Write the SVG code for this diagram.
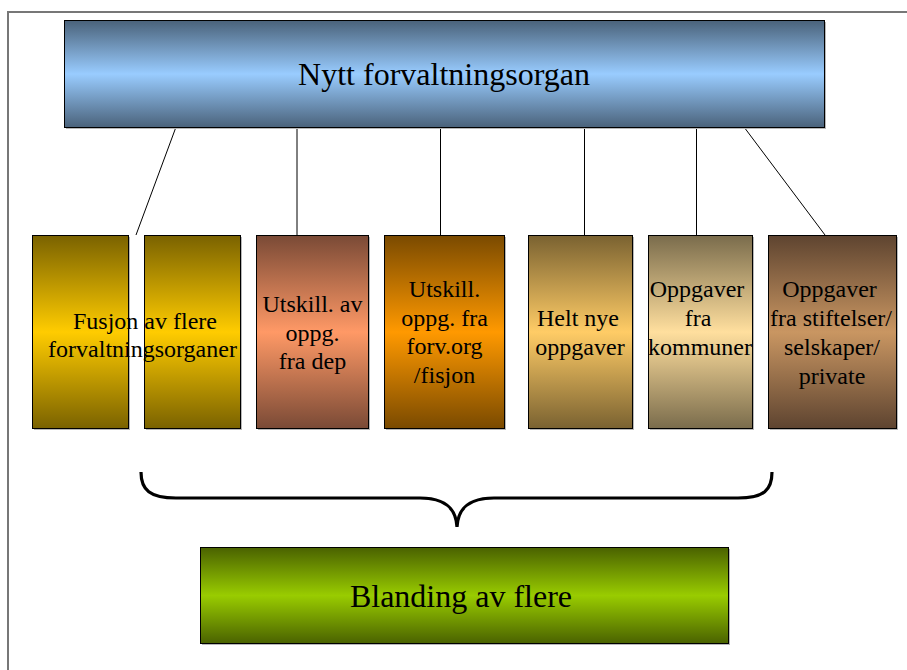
<svg xmlns="http://www.w3.org/2000/svg" width="907" height="670" viewBox="0 0 907 670">
<style>
  .box { stroke: #000; stroke-width: 1; }
  .shadow { fill: #b8b8b8; }
  .t { font-family: "Liberation Serif", "Times New Roman", serif; fill: #000; text-anchor: middle; }
  .big { font-size: 32px; }
  .small { font-size: 24px; }
  .conn { stroke: #000; stroke-width: 1; fill: none; }
</style>
<defs>
  <linearGradient id="gBlue" x1="0" y1="0" x2="0" y2="1">
    <stop offset="0" stop-color="#4a627a"/><stop offset="0.5" stop-color="#99ccff"/><stop offset="1" stop-color="#4a627a"/>
  </linearGradient>
  <linearGradient id="gGold" x1="0" y1="0" x2="0" y2="1">
    <stop offset="0" stop-color="#7a6200"/><stop offset="0.5" stop-color="#ffcc00"/><stop offset="1" stop-color="#7a6200"/>
  </linearGradient>
  <linearGradient id="gSalmon" x1="0" y1="0" x2="0" y2="1">
    <stop offset="0" stop-color="#7a4a36"/><stop offset="0.5" stop-color="#ff9966"/><stop offset="1" stop-color="#7a4a36"/>
  </linearGradient>
  <linearGradient id="gOrange" x1="0" y1="0" x2="0" y2="1">
    <stop offset="0" stop-color="#7a4a00"/><stop offset="0.5" stop-color="#ff9900"/><stop offset="1" stop-color="#7a4a00"/>
  </linearGradient>
  <linearGradient id="gTan" x1="0" y1="0" x2="0" y2="1">
    <stop offset="0" stop-color="#7a6231"/><stop offset="0.5" stop-color="#ffcc66"/><stop offset="1" stop-color="#7a6231"/>
  </linearGradient>
  <linearGradient id="gCream" x1="0" y1="0" x2="0" y2="1">
    <stop offset="0" stop-color="#7a6c4c"/><stop offset="0.5" stop-color="#ffdf9e"/><stop offset="1" stop-color="#7a6c4c"/>
  </linearGradient>
  <linearGradient id="gBrown" x1="0" y1="0" x2="0" y2="1">
    <stop offset="0" stop-color="#5e4430"/><stop offset="0.5" stop-color="#c99662"/><stop offset="1" stop-color="#5e4430"/>
  </linearGradient>
  <linearGradient id="gGreen" x1="0" y1="0" x2="0" y2="1">
    <stop offset="0" stop-color="#4a6200"/><stop offset="0.5" stop-color="#99cc00"/><stop offset="1" stop-color="#4a6200"/>
  </linearGradient>
</defs>

<rect x="0" y="0" width="907" height="670" fill="#fff"/>
<path d="M8,670 V12 H907" fill="none" stroke="#777" stroke-width="2"/>

<g id="connectors">
  <line class="conn" x1="176" y1="127" x2="136" y2="235"/>
  <line class="conn" x1="297" y1="127" x2="297" y2="235"/>
  <line class="conn" x1="440.5" y1="127" x2="440.5" y2="235"/>
  <line class="conn" x1="584.5" y1="127" x2="584.5" y2="246"/>
  <line class="conn" x1="696.5" y1="127" x2="696.5" y2="235"/>
  <line class="conn" x1="744" y1="127" x2="825" y2="235"/>
  <path id="brace" d="M141,472 C141,490 150,498 176,498 H420 C445,498 456,508 457,527 C458,508 469,498 494,498 H738 C764,498 772,490 772,472" fill="none" stroke="#000" stroke-width="3.2"/>
</g>

<g id="node-top">
  <rect class="shadow" x="66" y="22" width="760" height="107"/>
  <rect class="box" x="64.5" y="20.5" width="760" height="107" fill="url(#gBlue)"/>
  <text class="t big" x="444" y="85">Nytt forvaltningsorgan</text>
</g>

<g id="node-fusjon">
  <rect class="shadow" x="34" y="237" width="96" height="193"/>
  <rect class="box" x="32.5" y="235.5" width="96" height="193" fill="url(#gGold)"/>
  <rect class="shadow" x="146" y="237" width="96" height="193"/>
  <rect class="box" x="144.5" y="235.5" width="96" height="193" fill="url(#gGold)"/>
  <text class="t small" x="145" y="329">Fusjon av flere</text>
  <text class="t small" x="142.5" y="357">forvaltningsorganer</text>
</g>

<g id="node-dep">
  <rect class="shadow" x="258" y="237" width="112" height="193"/>
  <rect class="box" x="256.5" y="235.5" width="112" height="193" fill="url(#gSalmon)"/>
  <text class="t small" x="312.5" y="312">Utskill. av</text>
  <text class="t small" x="312.5" y="340.5">oppg.</text>
  <text class="t small" x="312.5" y="369">fra dep</text>
</g>

<g id="node-forv">
  <rect class="shadow" x="386" y="237" width="120" height="193"/>
  <rect class="box" x="384.5" y="235.5" width="120" height="193" fill="url(#gOrange)"/>
  <text class="t small" x="444.5" y="297">Utskill.</text>
  <text class="t small" x="444.5" y="325.5">oppg. fra</text>
  <text class="t small" x="444.5" y="354">forv.org</text>
  <text class="t small" x="444.5" y="382.5">/fisjon</text>
</g>

<g id="node-nye">
  <rect class="shadow" x="530" y="237" width="104" height="193"/>
  <rect class="box" x="528.5" y="235.5" width="104" height="193" fill="url(#gTan)"/>
  <text class="t small" x="578" y="326">Helt nye</text>
  <text class="t small" x="580" y="355">oppgaver</text>
</g>

<g id="node-kommuner">
  <rect class="shadow" x="650" y="237" width="104" height="193"/>
  <rect class="box" x="648.5" y="235.5" width="104" height="193" fill="url(#gCream)"/>
  <text class="t small" x="697" y="297">Oppgaver</text>
  <text class="t small" x="698" y="326">fra</text>
  <text class="t small" x="700" y="355">kommuner</text>
</g>

<g id="node-private">
  <rect class="shadow" x="770" y="237" width="128" height="193"/>
  <rect class="box" x="768.5" y="235.5" width="128" height="193" fill="url(#gBrown)"/>
  <text class="t small" x="829.5" y="297">Oppgaver</text>
  <text class="t small" x="831" y="326">fra stiftelser/</text>
  <text class="t small" x="832" y="355">selskaper/</text>
  <text class="t small" x="832" y="383.5">private</text>
</g>

<g id="node-blanding">
  <rect class="shadow" x="202" y="549" width="528" height="96"/>
  <rect class="box" x="200.5" y="547.5" width="528" height="96" fill="url(#gGreen)"/>
  <text class="t big" x="461" y="607">Blanding av flere</text>
</g>
</svg>
